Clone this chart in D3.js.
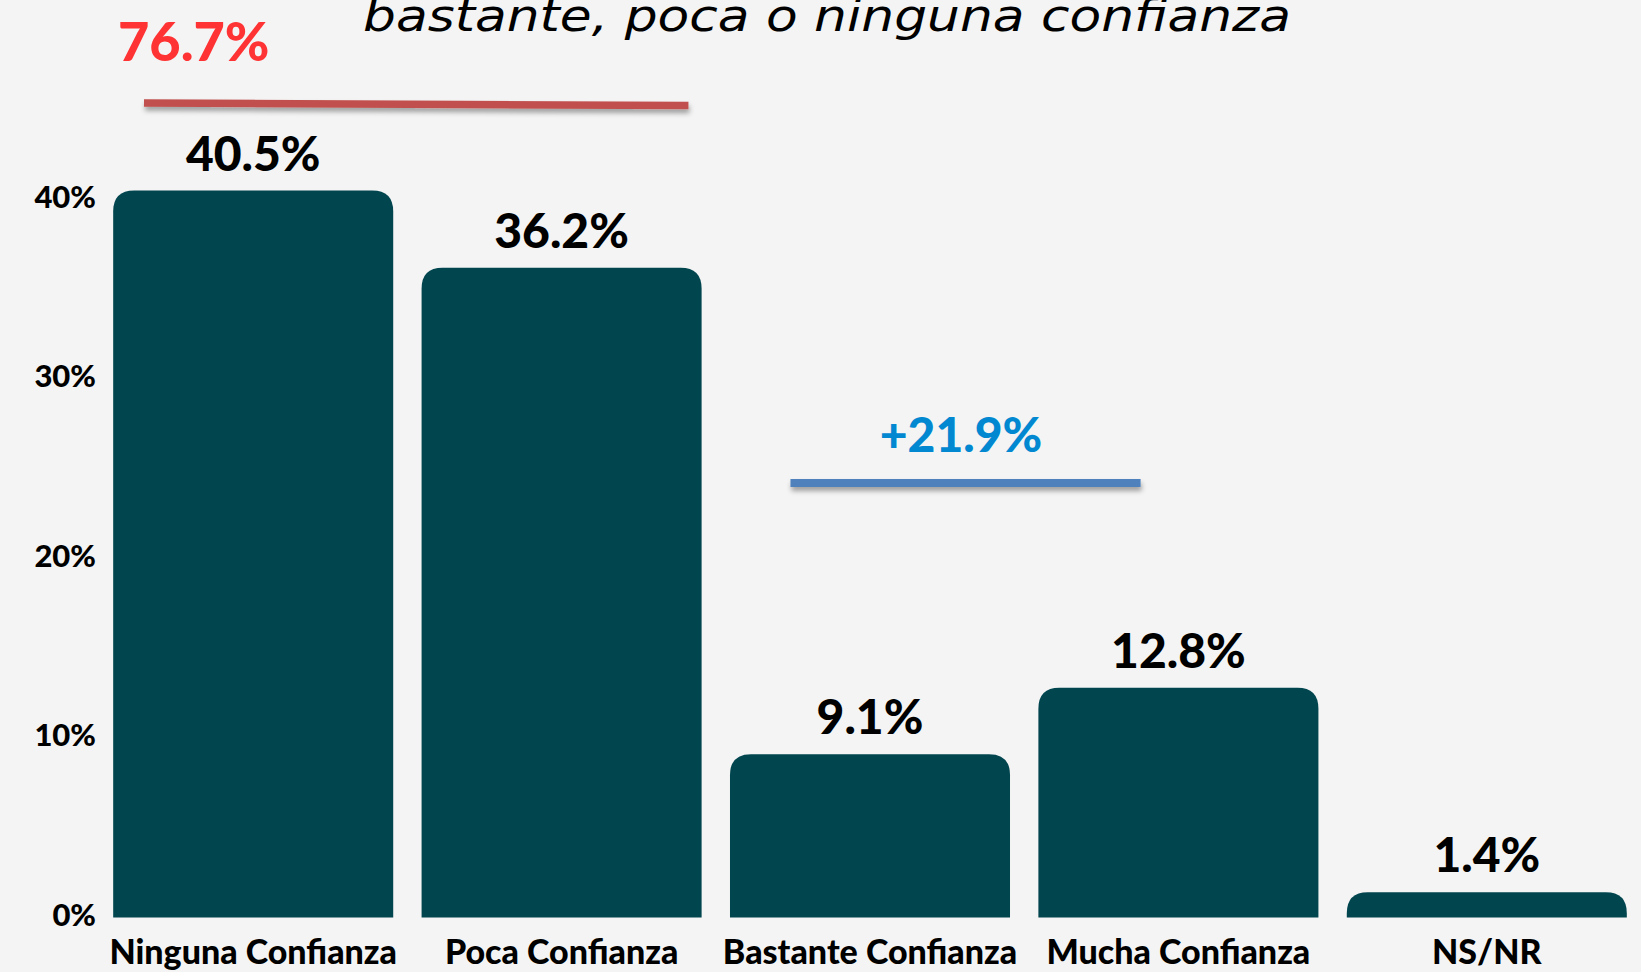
<!DOCTYPE html>
<html>
<head>
<meta charset="utf-8">
<script src="https://cdn.jsdelivr.net/npm/d3@7"></script>
<style>
  html,body{margin:0;padding:0;background:#f4f4f4;}
  svg{display:block;}
  .lbl{font-family:Lato,"Noto Sans",sans-serif;font-weight:900;}
</style>
</head>
<body>
<script>
// data
var categories=["Ninguna Confianza","Poca Confianza","Bastante Confianza","Mucha Confianza","NS/NR"]
var values=[40.5,36.2,9.1,12.8,1.4]
var yTicks=[0,10,20,30,40]
var groupLabels=["76.7%","+21.9%"]
var groupMembers=[[0,1],[2,3]]

var screen={width:1641,height:972}
var baseline=917.5

var svg=d3.select("body").append("svg")
          .attr("width",screen.width)
          .attr("height",screen.height)
svg.append("rect").attr("width",screen.width).attr("height",screen.height).attr("fill","#f4f4f4")

var defs=svg.append("defs")
var f=defs.append("filter").attr("id","shadow")
          .attr("filterUnits","userSpaceOnUse")
          .attr("x",0).attr("y",0).attr("width",screen.width).attr("height",screen.height)
f.append("feDropShadow").attr("dx",1).attr("dy",4).attr("stdDeviation",2.5).attr("flood-color","#000").attr("flood-opacity",0.35)

var xScale=d3.scaleBand()
             .domain(categories)
             .range([99,1641])
             .paddingInner(0.092)
             .paddingOuter(0.046)
var yScale=d3.scaleLinear()
             .domain([0,40])
             .range([baseline,baseline-40*17.95])

//title (second line, first one is cut off)
svg.append("text")
   .attr("x",827).attr("y",31)
   .attr("text-anchor","middle")
   .attr("textLength",928).attr("lengthAdjust","spacingAndGlyphs")
   .style("font-family","'DejaVu Sans',sans-serif")
   .style("font-style","italic")
   .style("font-size","44px")
   .style("fill","#000")
   .text("bastante, poca o ninguna confianza")

//bars with rounded top corners
var radius=21
var barPath=function(x,y,w,h){
  var r=Math.min(radius,h,w/2)
  return "M"+x+","+(y+h)+"V"+(y+r)+"Q"+x+","+y+" "+(x+r)+","+y+"H"+(x+w-r)+"Q"+(x+w)+","+y+" "+(x+w)+","+(y+r)+"V"+(y+h)+"Z"
}
svg.append("g").selectAll("path")
   .data(values)
   .enter()
   .append("path")
   .attr("d",function(d,i){return barPath(xScale(categories[i]),yScale(d),xScale.bandwidth(),baseline-yScale(d))})
   .attr("fill","#01454f")

//value labels
svg.append("g").selectAll("text")
   .data(values)
   .enter()
   .append("text")
   .attr("class","lbl")
   .attr("x",function(d,i){return xScale(categories[i])+xScale.bandwidth()/2})
   .attr("y",function(d){return yScale(d)-20})
   .attr("text-anchor","middle")
   .style("font-size","48px")
   .text(function(d){return d.toFixed(1)+"%"})

//y axis (labels only)
var yAxis=d3.axisLeft(yScale)
            .tickValues(yTicks)
            .tickSize(0)
            .tickPadding(0)
            .tickFormat(function(d){return d+"%"})
var ya=svg.append("g")
   .attr("transform","translate(96,-2)")
   .call(yAxis)
ya.select(".domain").remove()
ya.selectAll("text").attr("class","lbl").style("font-size","31px").attr("fill","#000")

//x axis
var xAxis=d3.axisBottom(xScale).tickSize(0).tickPadding(0)
var xa=svg.append("g")
   .attr("transform","translate(0,"+(baseline+22)+")")
   .call(xAxis)
xa.select(".domain").remove()
xa.selectAll("text").attr("class","lbl").style("font-size","34px").attr("fill","#000")

//group annotations
var bw=xScale.bandwidth()
var redX1=xScale(categories[groupMembers[0][0]])+0.11*bw
var redX2=xScale(categories[groupMembers[0][1]])+bw-0.047*bw
svg.append("line")
   .attr("x1",redX1).attr("y1",103)
   .attr("x2",redX2).attr("y2",105.5)
   .attr("stroke","#c0504d").attr("stroke-width",7.5)
   .attr("filter","url(#shadow)")
svg.append("text")
   .attr("class","lbl")
   .attr("x",118).attr("y",61)
   .style("font-size","54px")
   .attr("fill","#ff3333")
   .text(groupLabels[0])

var blueX1=xScale(categories[groupMembers[1][0]])+0.216*bw
var blueX2=xScale(categories[groupMembers[1][1]])+0.365*bw
svg.append("line")
   .attr("x1",blueX1).attr("y1",483)
   .attr("x2",blueX2).attr("y2",483)
   .attr("stroke","#4f81bd").attr("stroke-width",8)
   .attr("filter","url(#shadow)")
svg.append("text")
   .attr("class","lbl")
   .attr("x",961).attr("y",452)
   .attr("text-anchor","middle")
   .style("font-size","48px")
   .attr("fill","#0288d1")
   .text(groupLabels[1])
</script>
</body>
</html>
